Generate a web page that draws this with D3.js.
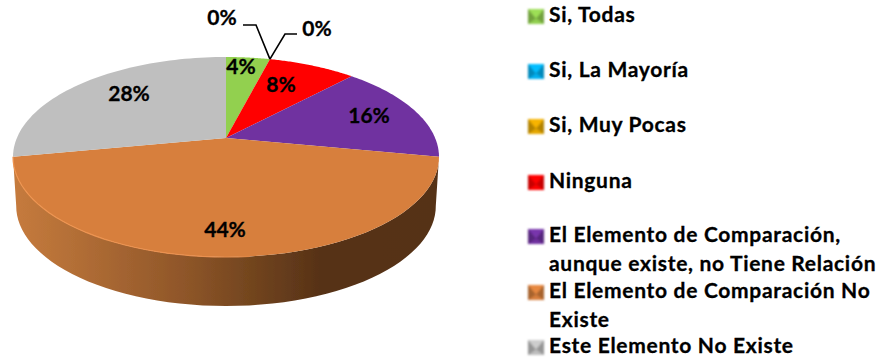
<!DOCTYPE html>
<html lang="en">
<head>
  <meta charset="UTF-8" />
  <title>Pie</title>
  <style>
    body { margin: 0; background: #fff; }
    svg { display: block; }
    text { font-family: Lato, "Open Sans", sans-serif; font-weight: 700; fill: #000; stroke: #000; stroke-width: 0.3px; }
  </style>
</head>
<body>
  <svg id="chart" width="885" height="360"></svg>
  <script src="https://d3js.org/d3.v7.min.js"></script>
  <script>
    const categories = ["Si, Todas", "Si, La Mayoría", "Si, Muy Pocas", "Ninguna",
      "El Elemento de Comparación, aunque existe, no Tiene Relación",
      "El Elemento de Comparación No Existe", "Este Elemento No Existe"];
    const values = [4, 0, 0, 8, 16, 44, 28];
    const colors = ["#92d050", "#00b0f0", "#e6a800", "#ff0000", "#7030a0", "#d77f3c", "#bfbfbf"];

    // wrapped legend lines, same order as categories
    const legendLines = [["Si, Todas"], ["Si, La Mayoría"], ["Si, Muy Pocas"], ["Ninguna"],
      ["El Elemento de Comparación,", "aunque existe, no Tiene Relación"],
      ["El Elemento de Comparación No", "Existe"], ["Este Elemento No Existe"]];
    const legendBaselines = [22, 77, 132, 188, 242, 298, 353];
    const lineGap = 29;

    // hand placed label centres, like the original
    const labelPos = [[241, 67], null, null, [281, 85], [369, 116], [225, 230], [129, 94]];

    const cx = 226, cy = 157, rx = 213, ry = 100, depth = 49;
    const tilt = -0.19; // moves the pie apex up from the ellipse centre

    const svg = d3.select("#chart");
    const defs = svg.append("defs");

    const soft = defs.append("filter").attr("id", "soft");
    soft.append("feGaussianBlur").attr("stdDeviation", 0.5);
    const softer = defs.append("filter").attr("id", "softer");
    softer.append("feGaussianBlur").attr("stdDeviation", 0.8);

    const wallGrad = defs.append("linearGradient").attr("id", "wall")
      .attr("gradientUnits", "userSpaceOnUse")
      .attr("x1", cx - rx).attr("x2", cx + rx).attr("y1", 0).attr("y2", 0);
    [[0, "#c67b3d"], [0.15, "#b26e36"], [0.4, "#8f5629"], [0.55, "#74461f"], [0.72, "#573217"], [1, "#553116"]]
      .forEach(s => wallGrad.append("stop").attr("offset", s[0]).attr("stop-color", s[1]));

    const rimGrad = defs.append("linearGradient").attr("id", "rim")
      .attr("gradientUnits", "userSpaceOnUse")
      .attr("x1", cx - rx).attr("x2", cx + rx * 0.2).attr("y1", 0).attr("y2", 0);
    rimGrad.append("stop").attr("offset", 0).attr("stop-color", "#ee9450");
    rimGrad.append("stop").attr("offset", 0.8).attr("stop-color", "#ea9050");
    rimGrad.append("stop").attr("offset", 1).attr("stop-color", "#d77f3c");

    const arcs = d3.pie().value(d => d).sort(null)(values);

    // disc point at radius f and clock angle a, seen in perspective
    function project(a, f) {
      const u = Math.sin(a) * f, v = -Math.cos(a) * f;
      const den = 1 + tilt * v;
      return [cx + rx * Math.sqrt(1 - tilt * tilt) * u / den, cy + ry * (v + tilt) / den];
    }

    const line = d3.line();
    const arcPoints = (a0, a1) => d3.range(0, 61).map(i => project(a0 + (a1 - a0) * i / 60, 1));

    const g = svg.append("g").attr("filter", "url(#soft)");

    // side wall, only the front slice shows it
    const front = arcs[5];
    const frontEdge = arcPoints(front.startAngle, front.endAngle);
    const lowerEdge = frontEdge.slice().reverse().map(p => [cx + (p[0] - cx) * 0.985, p[1] + depth]);
    g.append("path").attr("d", line(frontEdge.concat(lowerEdge)) + "Z").attr("fill", "url(#wall)");

    g.selectAll("path.slice")
      .data(arcs.filter(d => d.value > 0))
      .join("path")
      .attr("class", "slice")
      .attr("d", d => line([project(0, 0)].concat(arcPoints(d.startAngle, d.endAngle))) + "Z")
      .attr("fill", d => colors[d.index]);

    g.append("path").attr("d", line(frontEdge.filter(p => p[0] < cx + 30)))
      .attr("fill", "none").attr("stroke", "url(#rim)").attr("stroke-width", 1.2);

    // leaders for the two empty slices
    const tip = project(arcs[1].startAngle, 1);
    const leaders = svg.append("g").attr("fill", "none").attr("stroke", "#000").attr("stroke-width", 1.6);
    leaders.append("path").attr("d", line([[243, 25], [256, 25], tip]));
    leaders.append("path").attr("d", line([[297, 34], [285, 34], tip]));

    const labels = svg.append("g").attr("font-size", 21).attr("text-anchor", "middle");
    arcs.forEach(d => {
      const p = labelPos[d.index];
      if (p) labels.append("text").attr("x", p[0]).attr("y", p[1] + 7).text(d3.format(".0%")(d.value / 100));
    });
    labels.append("text").attr("x", 222).attr("y", 25).text(d3.format(".0%")(values[1] / 100));
    labels.append("text").attr("x", 317).attr("y", 36).text(d3.format(".0%")(values[2] / 100));

    // legend, small bevelled squares
    const legend = svg.append("g");
    categories.forEach((name, i) => {
      const base = legendBaselines[i];
      const c = d3.color(colors[i]);
      const x0 = 528, x1 = 544, y0 = base - 13, y1 = base + 2;
      const mid = [(x0 + x1) / 2, (y0 + y1) / 2 + 2];
      const sw = legend.append("g").attr("filter", "url(#softer)");
      sw.append("rect").attr("x", x0).attr("y", y0).attr("width", x1 - x0).attr("height", y1 - y0)
        .attr("fill", c.darker(0.7));
      sw.append("path").attr("d", line([[x0, y0], [x1, y0], mid]) + "Z").attr("fill", c.brighter(0.2));
      sw.append("path").attr("d", line([[x0, y1], [x1, y1], mid]) + "Z").attr("fill", c);
      legendLines[i].forEach((t, j) => {
        legend.append("text").attr("x", 549).attr("y", base + j * lineGap)
          .attr("font-size", 21).attr("letter-spacing", 0.7).text(t);
      });
    });
  </script>
</body>
</html>
